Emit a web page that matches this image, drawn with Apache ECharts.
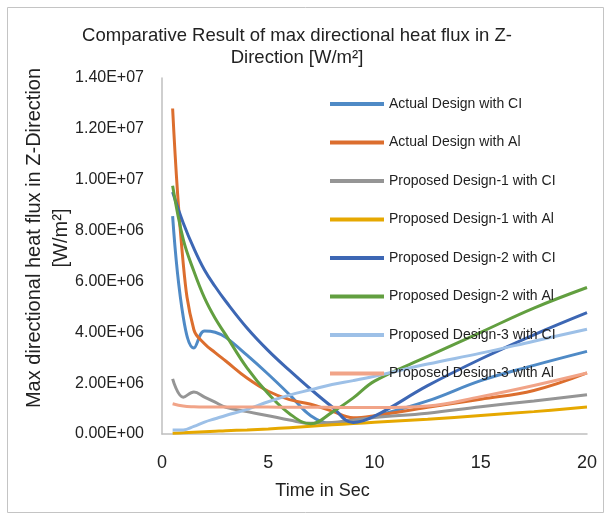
<!DOCTYPE html>
<html>
<head>
<meta charset="utf-8">
<title>Comparative Result of max directional heat flux</title>
<script src="https://cdn.jsdelivr.net/npm/echarts@6/dist/echarts.min.js"></script>
<style>
  html, body { margin: 0; padding: 0; background: #fff; }
  #chart { width: 610px; height: 520px; }
</style>
</head>
<body>
<div id="chart"></div>
<script>
// time steps (s)
var times = [0.5, 1, 1.5, 2, 2.5, 3, 4, 5, 6, 7, 8, 9, 10, 12.5, 15, 17.5, 20];

// heat flux values, in units of 1E+06 W/m2
var actualCI   = [8.57, 4.6, 3.38, 4.05, 4.0, 3.8, 3.1, 2.35, 1.55, 0.72, 0.42, 0.55, 0.7, 1.3, 2.1, 2.7, 3.25];
var actualAI   = [12.8, 6.7, 4.1, 3.55, 3.2, 2.87, 2.2, 1.68, 1.35, 1.17, 0.9, 0.64, 0.72, 1.05, 1.37, 1.71, 2.4];
var pd1CI      = [2.17, 1.45, 1.65, 1.45, 1.25, 1.05, 0.88, 0.72, 0.55, 0.42, 0.45, 0.55, 0.65, 0.82, 1.07, 1.3, 1.54];
var pd1AI      = [0.03, 0.05, 0.07, 0.09, 0.11, 0.13, 0.16, 0.2, 0.25, 0.3, 0.36, 0.41, 0.46, 0.58, 0.73, 0.88, 1.06];
var pd2CI      = [9.52, 8.3, 7.3, 6.45, 5.8, 5.22, 4.17, 3.28, 2.5, 1.76, 1.07, 0.45, 0.7, 1.9, 2.95, 3.9, 4.77];
var pd2AI      = [9.76, 7.65, 6.4, 5.35, 4.55, 3.9, 2.6, 1.58, 0.8, 0.4, 0.85, 1.42, 2.08, 3.05, 4.0, 4.95, 5.76];
var pd3CI      = [0.16, 0.16, 0.3, 0.47, 0.6, 0.73, 0.97, 1.27, 1.53, 1.74, 1.95, 2.1, 2.27, 2.75, 3.18, 3.65, 4.12];
var pd3AI      = [1.19, 1.1, 1.07, 1.06, 1.06, 1.06, 1.06, 1.06, 1.05, 1.05, 1.05, 1.04, 1.04, 1.1, 1.47, 1.91, 2.4];

var seriesNames = [
  'Actual Design with CI', 'Actual Design with Al',
  'Proposed Design-1 with CI', 'Proposed Design-1 with Al',
  'Proposed Design-2 with CI', 'Proposed Design-2 with Al',
  'Proposed Design-3 with CI', 'Proposed Design-3 with Al'
];
var seriesValues = [actualCI, actualAI, pd1CI, pd1AI, pd2CI, pd2AI, pd3CI, pd3AI];
var colors = ['#4f8ac6', '#dc6e2e', '#959595', '#e6a800', '#3d67b4', '#629f40', '#9dc0e7', '#f1a488'];

var yTicks = [0, 2e6, 4e6, 6e6, 8e6, 1e7, 1.2e7, 1.4e7];

var FONT = 'Liberation Sans';

// 1.40E+07 style labels
function sci(v) {
  if (v === 0) return '0.00E+00';
  var e = Math.floor(Math.log10(Math.abs(v)) + 1e-9);
  var m = v / Math.pow(10, e);
  return m.toFixed(2) + 'E' + (e < 0 ? '-' : '+') + (Math.abs(e) < 10 ? '0' : '') + Math.abs(e);
}

var chart = echarts.init(document.getElementById('chart'), null, { renderer: 'canvas' });

var series = seriesNames.map(function (name, i) {
  return {
    name: name,
    type: 'line',
    smooth: 0.4,
    showSymbol: false,
    symbol: 'none',
    lineStyle: { width: 3, color: colors[i] },
    itemStyle: { color: colors[i] },
    data: times.map(function (t, k) { return [t, seriesValues[i][k] * 1e6]; })
  };
});

var option = {
  animation: false,
  backgroundColor: '#fff',
  textStyle: { fontFamily: FONT },
  title: {
    text: 'Comparative Result of max directional heat flux in Z-\nDirection [W/m²]',
    left: 292,
    top: 20,
    textAlign: 'center',
    textStyle: { fontFamily: FONT, fontSize: 18.5, fontWeight: 'normal', color: '#222', lineHeight: 22 }
  },
  legend: {
    orient: 'vertical',
    left: 325,
    top: 90,
    icon: 'rect',
    itemWidth: 54,
    itemHeight: 4,
    itemGap: 20.5,
    data: seriesNames,
    textStyle: { fontFamily: FONT, fontSize: 14, color: '#222', lineHeight: 18 }
  },
  grid: { left: 162, right: 23, top: 78, bottom: 86, containLabel: false },
  xAxis: {
    type: 'value',
    min: 0,
    max: 20,
    interval: 5,
    name: 'Time in Sec',
    nameLocation: 'middle',
    nameGap: 48,
    nameMoveOverlap: false,
    nameTextStyle: { fontFamily: FONT, fontSize: 18, color: '#222', padding: [0, 104, 0, 0] },
    axisLine: { lineStyle: { color: '#bfbfbf', width: 1.5 } },
    axisTick: { show: false },
    splitLine: { show: false },
    axisLabel: { fontFamily: FONT, fontSize: 18, color: '#222', margin: 20 }
  },
  yAxis: {
    type: 'value',
    min: yTicks[0],
    max: yTicks[yTicks.length - 1],
    interval: yTicks[1] - yTicks[0],
    name: 'Max directional heat flux in Z-Direction\n[W/m²]',
    nameLocation: 'middle',
    nameGap: 87,
    nameMoveOverlap: false,
    nameTextStyle: { fontFamily: FONT, fontSize: 20, color: '#222', lineHeight: 27, padding: [0, 0, 0, 36] },
    axisLine: { show: true, lineStyle: { color: '#bfbfbf', width: 1.5 } },
    axisTick: { show: false },
    splitLine: { show: false },
    axisLabel: { fontFamily: FONT, fontSize: 16, color: '#222', margin: 18, formatter: sci }
  },
  graphic: [{
    type: 'rect',
    shape: { x: 7.5, y: 7.5, width: 596, height: 505 },
    style: { fill: null, stroke: '#c4c4c4', lineWidth: 1 },
    silent: true,
    z: -10
  }],
  series: series
};

chart.setOption(option);
</script>
</body>
</html>
